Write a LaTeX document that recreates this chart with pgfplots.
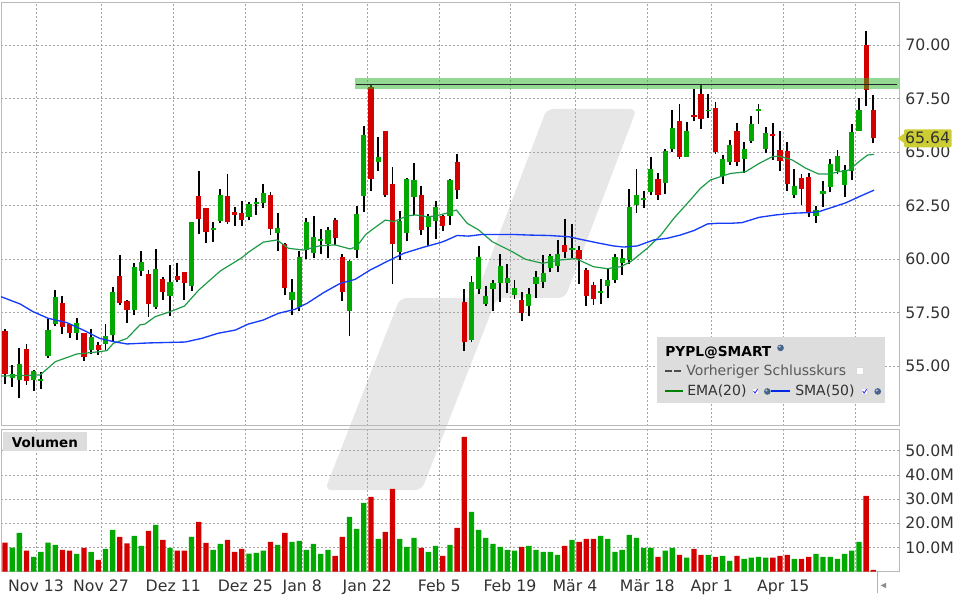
\documentclass[border=0pt]{standalone}
\usepackage{fontspec}
\setmainfont{DejaVu Sans}
\usepackage{pgfplots}
\usepackage{pgfplotstable}
\pgfplotsset{compat=1.18}

\definecolor{cgreen}{RGB}{0,168,0}
\definecolor{cred}{RGB}{212,0,0}
\definecolor{ema}{RGB}{30,155,70}
\definecolor{sma}{RGB}{20,60,250}
\definecolor{gridc}{RGB}{165,165,165}
\definecolor{borderc}{RGB}{185,185,185}
\definecolor{wm}{RGB}{231,231,231}
\definecolor{band}{RGB}{40,180,40}
\definecolor{legbg}{RGB}{221,221,221}
\definecolor{lab}{RGB}{204,204,51}
\definecolor{txt}{RGB}{50,50,50}
\definecolor{globec}{RGB}{70,100,140}
\definecolor{legema}{RGB}{0,128,0}
\definecolor{legsma}{RGB}{0,40,230}

\pgfplotstableread{
i O H L C V
1 54.46 55.05 54.03 54.63 9.9
2 54.36 55.84 53.52 55.09 16.0
4 54.36 54.81 53.85 54.77 6.1
5 54.32 54.72 53.94 54.41 8.1
6 55.48 57.18 55.39 56.68 12.0
7 56.98 58.55 56.89 58.22 11.0
10 56.56 57.24 56.23 57.01 7.3
12 55.76 56.73 55.58 56.36 8.1
14 56.04 56.96 55.72 56.40 9.4
15 56.46 58.69 56.14 58.46 17.2
18 57.62 59.81 57.38 59.63 14.8
19 59.44 60.37 59.21 59.86 10.6
21 57.76 60.47 57.66 59.53 19.3
23 58.27 59.72 57.34 58.93 9.8
26 58.74 61.73 58.51 61.73 14.3
29 61.36 61.73 60.80 61.45 9.0
30 61.78 63.27 61.68 62.99 11.4
34 61.96 62.66 61.82 62.57 7.4
35 62.57 62.85 62.06 62.66 7.7
36 62.62 63.50 62.38 63.08 8.6
38 61.22 62.15 60.37 61.45 11.0
40 58.08 59.07 57.38 58.46 12.3
41 57.76 60.37 57.57 60.09 12.7
42 60.42 61.92 60.00 61.73 9.0
43 60.28 62.01 60.05 61.03 11.4
44 60.84 61.40 60.23 60.94 7.3
45 60.70 61.50 60.05 61.36 9.0
48 57.57 59.95 56.40 59.91 22.6
49 60.42 62.48 60.05 62.10 17.7
50 62.94 66.22 62.20 65.80 28.4
52 64.53 65.70 64.11 64.77 13.5
55 60.33 62.24 59.95 61.78 13.5
56 61.22 63.79 60.84 63.74 10.2
57 62.90 64.49 62.06 63.69 13.9
59 61.50 62.10 60.61 62.01 8.1
60 61.78 62.71 60.94 62.43 10.6
62 62.01 63.74 61.59 63.69 11.0
65 56.22 59.21 56.12 58.93 24.7
66 58.60 60.61 58.37 60.09 17.2
67 57.90 58.74 57.80 58.27 13.9
68 58.60 59.02 57.57 58.88 11.4
69 58.88 60.23 57.99 59.67 10.2
70 58.88 59.77 58.41 59.11 9.0
71 58.32 59.02 58.13 58.65 8.6
73 57.80 58.65 57.34 58.37 10.6
74 58.83 59.44 58.18 59.16 9.0
75 58.93 60.19 58.65 59.35 8.1
76 59.58 60.23 59.39 60.14 8.1
77 59.67 60.89 59.39 60.23 6.9
79 60.42 61.64 60.05 60.51 13.1
83 58.41 59.07 57.90 58.51 14.8
84 58.74 59.58 58.18 59.02 13.5
85 59.02 60.23 58.88 60.09 8.1
86 59.81 60.47 59.25 60.05 9.0
87 59.95 63.27 59.77 62.43 15.2
88 62.52 64.21 62.15 62.99 13.9
89 62.76 63.18 62.38 62.85 9.8
90 63.13 64.77 62.99 64.21 9.8
92 63.55 65.14 63.04 65.05 8.6
93 65.14 66.96 65.00 66.12 9.8
95 64.77 66.40 64.77 65.98 5.7
98 66.90 67.71 66.59 66.96 6.9
100 63.88 64.86 63.50 64.67 6.5
101 64.53 65.56 64.39 65.33 4.4
103 64.67 65.47 64.02 65.14 5.2
104 65.51 66.68 65.42 66.31 5.7
105 66.93 67.24 66.31 67.01 6.1
106 65.14 66.17 64.95 65.89 5.7
110 62.99 64.21 62.85 63.41 5.2
113 62.01 62.48 61.68 62.29 7.3
114 63.04 63.65 62.43 63.18 6.1
115 63.37 64.67 63.13 64.44 6.1
116 64.11 65.09 63.97 64.81 5.2
117 63.46 64.39 62.90 64.16 7.3
118 64.11 66.31 63.69 65.94 8.6
119 65.98 67.52 65.98 66.96 12.3
}\greentab

\pgfplotstableread{
i O H L C V
0 56.64 56.73 54.14 54.63 12.0
3 55.80 56.03 54.11 54.32 8.6
8 57.94 58.27 56.51 56.84 9.0
9 56.96 56.96 56.32 56.56 8.6
11 56.54 56.54 55.25 55.44 9.8
13 55.98 56.12 55.53 55.76 4.8
16 59.21 60.19 57.85 57.94 14.3
17 58.04 58.08 57.03 57.62 11.6
20 59.30 59.49 57.29 57.90 16.8
22 59.07 59.16 58.08 58.46 13.1
24 59.21 59.81 58.93 59.02 8.6
25 59.39 59.39 58.08 58.88 8.6
27 62.94 64.11 61.17 61.87 20.6
28 62.38 62.38 60.75 61.26 11.9
31 62.94 63.97 61.64 61.73 13.1
32 62.20 62.43 61.54 62.06 8.1
33 62.15 62.71 61.54 61.82 9.4
37 62.99 63.13 61.12 61.40 12.3
39 60.70 60.75 58.32 58.65 16.0
46 61.82 61.92 60.65 60.98 6.5
47 60.09 60.23 58.04 58.46 14.3
51 68.04 68.18 63.18 63.74 30.9
53 65.98 65.98 62.90 62.99 16.4
54 63.50 64.30 58.83 60.70 34.2
58 62.99 63.41 61.12 61.36 9.8
61 62.01 62.06 61.31 61.54 6.5
63 64.53 64.91 62.80 63.22 18.1
64 57.99 58.60 55.70 56.12 55.7
72 58.08 58.46 57.10 57.48 10.2
78 60.65 61.87 60.05 60.33 10.6
80 60.42 60.61 58.83 60.00 12.3
81 59.49 59.58 57.80 58.27 13.5
82 58.79 58.93 57.85 58.13 13.5
91 63.74 64.02 62.76 62.99 6.1
94 66.45 67.24 64.67 64.77 6.9
96 66.73 67.94 66.45 66.64 9.4
97 67.71 68.18 66.08 66.54 6.9
99 67.06 67.34 64.91 65.00 6.1
102 65.98 66.36 64.35 64.53 6.5
107 65.84 66.36 64.63 65.75 5.7
108 65.09 65.98 64.11 64.58 6.5
109 65.05 65.47 63.18 63.50 6.9
111 63.79 63.97 62.52 63.27 5.2
112 63.83 64.02 61.96 62.15 6.1
120 70.00 70.65 67.15 67.90 31.3
121 66.96 67.66 65.42 65.64 0.7
}\redtab

\pgfplotsset{
  panel/.style={
    scale only axis, width=673.5pt, xmin=-0.557, xmax=124.58,
    axis line style={draw=borderc, line width=0.75pt},
    xmajorgrids, ymajorgrids,
    grid style={draw=gridc, line width=0.6pt, dash pattern=on 1.5pt off 1.5pt},
    major tick length=0pt,
    xtick={4.32,13.38,23.45,33.49,41.43,50.49,60.52,70.37,79.43,89.51,98.48,108.46,118.55},
    yticklabel pos=right,
    tick label style={font=\fontsize{11.8pt}{14pt}\selectfont, text=txt},
    yticklabel style={anchor=west, inner sep=0pt, xshift=4.5pt},
  },
  wick/.style={draw=none, mark=none, forget plot,
    error bars/.cd, y dir=plus, y explicit, error mark=none,
    error bar style={line width=1.4pt, draw=black, solid}},
  body/.style={draw=none, mark=none, forget plot,
    error bars/.cd, y dir=plus, y explicit, error mark=none,
    error bar style={line width=3.9pt, draw=#1, solid}},
}

\begin{document}
\begin{tikzpicture}
\useasboundingbox (0pt,0pt) rectangle (720pt,450pt);
% watermark
\fill[wm, rounded corners=5pt] (243.75pt,82.5pt) -- (316.3pt,82.5pt) -- (372.5pt,226.5pt) -- (423.75pt,226.5pt) -- (477.5pt,368.25pt) -- (410pt,368.25pt) -- (356.25pt,226.5pt) -- (300pt,226.5pt) -- cycle;

% price panel
\begin{axis}[panel, at={(0.75pt,130.725pt)}, anchor=south west, height=317.25pt,
  ymin=52.21, ymax=71.98,
  ytick={55,57.5,60,62.5,65,67.5,70},
  yticklabels={55.00,57.50,60.00,62.50,65.00,67.50,70.00},
  xticklabels={}]
\addplot[wick] table[x=i, y=L, y error plus expr=\thisrow{H}-\thisrow{L}] {\greentab};
\addplot[wick] table[x=i, y=L, y error plus expr=\thisrow{H}-\thisrow{L}] {\redtab};
\addplot[body=cgreen] table[x=i, y=O, y error plus expr=\thisrow{C}-\thisrow{O}] {\greentab};
\addplot[body=cred] table[x=i, y=C, y error plus expr=\thisrow{O}-\thisrow{C}] {\redtab};
% EMA(20)
\addplot[ema, line width=0.9pt, mark=none] coordinates {
(-0.56,54.53) (4.9,54.58) (7.0,55.20) (10.0,55.56) (13.2,55.67) (14.2,55.72) (15.1,56.06) (17.0,56.29) (18.8,56.92)
(19.5,56.96) (20.9,57.30) (23.0,57.54) (25.0,57.80) (27.0,58.55) (30.0,59.44) (33.0,60.06) (33.9,60.31) (36.0,60.79) (37.9,60.89) (39.5,60.50)
(41.6,60.42) (43.9,60.62) (46.0,60.66) (48.1,60.47) (49.0,60.58) (50.2,61.12) (51.1,61.36) (53.0,61.82) (54.2,61.75) (56.0,62.01) (57.2,62.06) (58.8,61.98) (60.0,62.01)
(61.4,62.13) (62.9,62.29) (64.4,61.67) (66.0,61.36) (67.9,60.81) (70.7,60.34) (72.5,59.99) (74.9,59.80) (77.2,59.95) (79.5,60.02)
(80.2,59.92) (82.0,59.64) (83.9,59.55) (85.8,59.64) (87.2,59.88) (89.5,60.50) (91.4,61.12) (93.2,61.90) (95.5,62.76) (96.9,63.30) (98.3,63.69) (99.7,63.85) (101.1,64.00)
(102.3,64.04) (103.2,64.08) (105.1,64.47) (106.9,64.78) (107.9,64.81) (109.7,64.63) (111.6,64.24) (113.4,63.97) (114.8,63.97) (116.2,64.08) (117.6,64.16) (119.0,64.55) (120.2,64.86) (121.1,64.89)};
% SMA(50)
\addplot[sma, line width=1pt, mark=none] coordinates {
(-0.56,58.24) (2.1,57.90) (3.9,57.54) (6.0,57.23) (8.6,57.03) (10.9,56.68) (13.2,56.29) (15.1,56.14) (17.0,56.03) (18.8,56.06) (20.2,56.08)
(25.1,56.12) (27.4,56.29) (29.7,56.53) (32.1,56.68) (33.9,56.96) (36.0,57.15) (38.1,57.46) (40.4,57.65)
(42.1,57.93) (44.4,58.43) (46.7,58.86) (48.8,59.05) (50.9,59.49) (53.2,59.88) (55.6,60.27) (58.3,60.55) (60.7,60.77)
(61.4,60.86) (63.0,61.10) (64.6,61.07) (66.5,61.15) (70.7,61.15) (73.0,61.12) (75.8,61.10) (78.6,61.04)
(80.2,60.92) (82.5,60.76) (84.8,60.61) (86.2,60.56) (88.1,60.61) (90.4,60.89) (92.3,60.97) (94.1,61.12) (96.0,61.33) (97.9,61.64) (99.3,61.67) (101.1,61.67)
(102.7,61.70) (105.1,61.95) (107.4,62.06) (109.7,62.14) (112.0,62.17) (113.4,62.21) (115.3,62.42) (117.2,62.63) (119.0,62.91) (121.1,63.22)};
% resistance band
\addplot[band, draw opacity=0.5, line width=8.25pt, mark=none, forget plot] coordinates {(48.77,68.20) (124.58,68.20)};
\addplot[black!85, line width=0.75pt, mark=none, forget plot] coordinates {(48.9,68.18) (124.3,68.18)};
\end{axis}

% volume panel
\begin{axis}[panel, at={(0.75pt,21.375pt)}, anchor=south west, height=106.125pt,
  ymin=0, ymax=58.6,
  ytick={10,20,30,40,50},
  yticklabels={10.0M,20.0M,30.0M,40.0M,50.0M},
  xticklabels={Nov 13,Nov 27,Dez 11,Dez 25,Jan 8,Jan 22,Feb 5,Feb 19,Mär 4,Mär 18,Apr 1,Apr 15,{}},
  xticklabel style={anchor=base, yshift=-15pt}]
\addplot[ybar, bar width=0.74, bar shift=0pt, fill=cgreen, draw=none, forget plot] table[x=i, y=V] {\greentab};
\addplot[ybar, bar width=0.74, bar shift=0pt, fill=cred, draw=none, forget plot] table[x=i, y=V] {\redtab};
\end{axis}

% Volumen label
\fill[legbg] (2.5pt,111.75pt) rectangle (65pt,126.2pt);
\node[anchor=base west, inner sep=0pt, font=\bfseries\fontsize{10.1pt}{12pt}\selectfont] at (8.8pt,114.3pt) {Volumen};

% last price label
\fill[lab, rounded corners=1pt] (678pt,339.5pt) rectangle (713.8pt,353pt);
\fill[lab] (673.3pt,346.3pt) -- (678.5pt,350.2pt) -- (678.5pt,342.4pt) -- cycle;
\node[anchor=west, inner sep=0pt, font=\fontsize{11.8pt}{14pt}\selectfont, text=txt] at (678.6pt,346.3pt) {65.64};

% legend
\fill[legbg] (492.75pt,147.75pt) rectangle (663.75pt,197.25pt);
\node[anchor=base west, inner sep=0pt, font=\bfseries\fontsize{10.3pt}{12pt}\selectfont] at (498.75pt,182.5pt) {PYPL@SMART};
\fill[globec] (585.4pt,189.1pt) circle (2.5pt);
\fill[white, opacity=0.6] (584.7pt,189.9pt) circle (0.9pt);
\draw[black!70, line width=1.5pt, dash pattern=on 5pt off 1.8pt] (498.75pt,171.6pt) -- (511pt,171.6pt);
\node[anchor=base west, inner sep=0pt, font=\fontsize{10.5pt}{12pt}\selectfont, text=black!65] at (514.5pt,168.2pt) {Vorheriger Schlusskurs};
\filldraw[fill=white, draw=black!15, line width=0.4pt] (642.5pt,169.3pt) rectangle (647.5pt,174.3pt);
\draw[legema, line width=1.5pt] (498.75pt,157.1pt) -- (512.25pt,157.1pt);
\node[anchor=base west, inner sep=0pt, font=\fontsize{10.5pt}{12pt}\selectfont, text=txt] at (515.25pt,153.6pt) {EMA(20)};
\filldraw[fill=white, draw=black!15, line width=0.4pt] (564.5pt,154.3pt) rectangle (568.7pt,158.5pt);
\draw[blue!80, line width=0.7pt] (565.2pt,156.6pt) -- (566.3pt,155.2pt) -- (568.2pt,158.1pt);
\fill[globec] (575.5pt,156.4pt) circle (2.5pt);
\fill[white, opacity=0.6] (574.8pt,157.2pt) circle (0.9pt);
\draw[legsma, line width=1.5pt] (578.5pt,157.1pt) -- (592.5pt,157.1pt);
\node[anchor=base west, inner sep=0pt, font=\fontsize{10.5pt}{12pt}\selectfont, text=txt] at (596.25pt,153.6pt) {SMA(50)};
\filldraw[fill=white, draw=black!15, line width=0.4pt] (646.3pt,154.3pt) rectangle (650.5pt,158.5pt);
\draw[blue!80, line width=0.7pt] (647pt,156.6pt) -- (648.1pt,155.2pt) -- (650pt,158.1pt);
\fill[globec] (658.3pt,156.4pt) circle (2.5pt);
\fill[white, opacity=0.6] (657.6pt,157.2pt) circle (0.9pt);

% scroll marker
\draw[black!30, line width=0.75pt] (657.75pt,5.3pt) -- (657.75pt,21pt);
\fill[black!45] (660.5pt,10.9pt) -- (664.5pt,12.9pt) -- (664.5pt,8.9pt) -- cycle;
\end{tikzpicture}
\end{document}
